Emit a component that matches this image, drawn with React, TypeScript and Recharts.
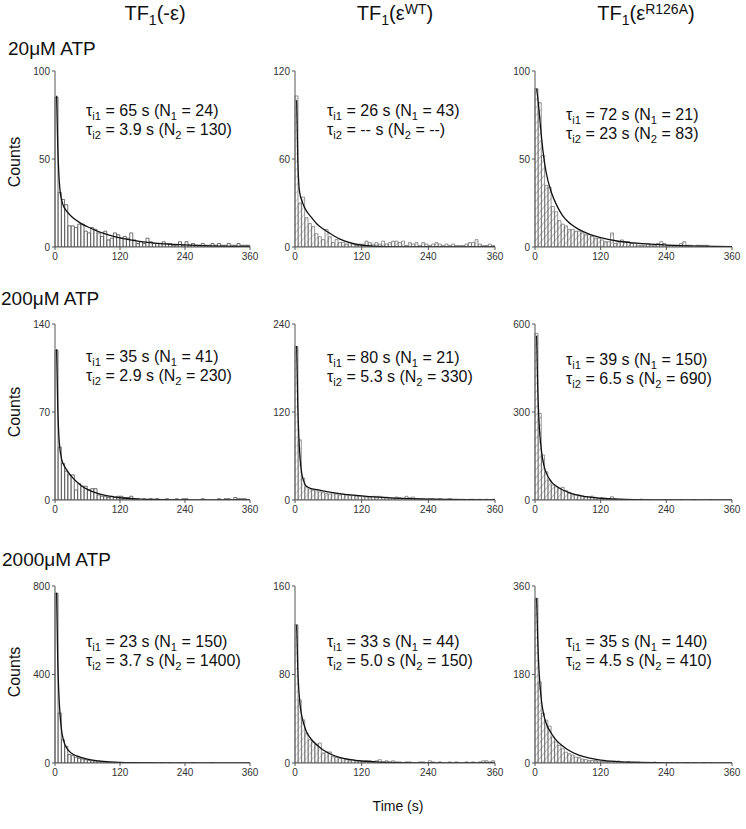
import { Bar, ComposedChart, Line, XAxis, YAxis } from "recharts";

const FONT = "'Liberation Sans', Arial, sans-serif";

// 6 s bins, 0-360 s
const BIN_WIDTH = 6;
const X_TICKS = [0, 120, 240, 360];

const ENZYMES = ["-ε", "WT", "R126A"];
const ATP_LABELS = ["20μM ATP", "200μM ATP", "2000μM ATP"];
const Y_MAX = [100, 120, 100, 140, 240, 600, 800, 160, 360];

const TAU1 = ["65", "26", "72", "35", "80", "39", "23", "33", "35"];
const N1 = ["24", "43", "21", "41", "21", "150", "150", "44", "140"];
const TAU2 = ["3.9", "--", "23", "2.9", "5.3", "6.5", "3.7", "5.0", "4.5"];
const N2 = ["130", "--", "83", "230", "330", "690", "1400", "150", "410"];

// histogram counts per bin
const H_20_NOEPS = [85, 31, 27, 24, 12, 12, 11, 13, 13, 9, 8, 11, 10, 8, 6, 9, 4, 5, 8, 7, 5, 6, 5, 8, 4, 2, 3, 2, 5, 3, 2, 2, 2, 3, 2, 2, 1, 1, 3, 1, 3, 1, 2, 1, 1, 2, 1, 1, 2, 1, 2, 1, 1, 2, 1, 1, 2, 1, 1, 1];
const H_20_WT = [103, 30, 34, 20, 16, 14, 9, 7, 5, 12, 7, 3, 5, 3, 3, 2, 3, 2, 1, 2, 2, 4, 3, 2, 3, 2, 4, 2, 3, 4, 4, 3, 4, 1, 3, 2, 3, 1, 3, 2, 1, 2, 3, 2, 1, 2, 1, 2, 1, 1, 1, 2, 3, 3, 5, 2, 1, 1, 2, 1];
const H_20_R126A = [90, 82, 52, 35, 34, 23, 20, 15, 13, 12, 10, 10, 9, 9, 8, 7, 7, 6, 5, 5, 4, 3, 3, 8, 2, 3, 4, 3, 3, 2, 2, 1, 1, 1, 2, 1, 1, 2, 3, 2, 1, 1, 1, 1, 2, 3, 1, 1, 0, 1, 1, 1, 1, 0, 0, 0, 0, 0, 0, 0];
const H_200_NOEPS = [119, 42, 29, 23, 20, 20, 8, 13, 11, 11, 8, 9, 9, 4, 3, 3, 2, 3, 2, 3, 3, 2, 2, 3, 1, 1, 0, 1, 0, 1, 0, 1, 0, 0, 1, 0, 0, 1, 0, 1, 1, 0, 0, 0, 0, 1, 0, 0, 0, 0, 1, 0, 1, 1, 0, 2, 1, 1, 1, 0];
const H_200_WT = [209, 82, 30, 18, 15, 13, 14, 11, 10, 9, 8, 10, 8, 7, 8, 7, 6, 6, 5, 5, 5, 4, 4, 5, 5, 5, 4, 4, 3, 2, 4, 3, 2, 5, 3, 4, 2, 2, 2, 1, 2, 2, 1, 2, 1, 1, 2, 1, 1, 1, 1, 0, 1, 1, 0, 1, 0, 1, 0, 1];
const H_200_R126A = [568, 295, 153, 96, 68, 51, 45, 40, 43, 32, 23, 20, 17, 17, 14, 11, 11, 13, 9, 6, 7, 6, 5, 11, 5, 3, 3, 2, 2, 2, 2, 1, 3, 1, 1, 1, 0, 1, 0, 1, 0, 1, 0, 0, 1, 0, 0, 0, 1, 0, 0, 0, 0, 1, 0, 0, 0, 0, 0, 0];
const H_2000_NOEPS = [767, 226, 105, 75, 38, 33, 26, 21, 18, 15, 12, 10, 9, 8, 6, 5, 4, 3, 3, 2, 2, 2, 2, 1, 1, 2, 1, 1, 1, 1, 1, 0, 1, 1, 0, 1, 0, 0, 1, 0, 0, 0, 1, 0, 0, 0, 0, 0, 1, 0, 0, 0, 0, 0, 0, 0, 0, 0, 0, 0];
const H_2000_WT = [125, 57, 39, 27, 21, 19, 17, 18, 9, 10, 10, 6, 5, 4, 4, 3, 2, 3, 2, 2, 1, 2, 2, 1, 2, 3, 1, 2, 1, 2, 1, 1, 0, 1, 1, 0, 0, 1, 1, 0, 2, 1, 0, 1, 0, 0, 1, 0, 1, 0, 0, 1, 0, 1, 0, 1, 2, 2, 1, 2];
const H_2000_R126A = [335, 165, 101, 87, 75, 53, 43, 36, 29, 22, 19, 16, 12, 11, 8, 7, 5, 5, 5, 4, 3, 3, 3, 3, 3, 4, 3, 2, 3, 1, 1, 2, 1, 1, 1, 1, 2, 1, 1, 0, 1, 1, 0, 1, 0, 1, 1, 0, 1, 0, 0, 1, 0, 1, 0, 0, 0, 0, 0, 0];

// fitted curves at these times (s)
const FIT_TIMES = [3, 5, 7, 9, 12, 16, 20, 30, 40, 50, 60, 80, 100, 120, 150, 180, 240, 300, 360];
const F_20_NOEPS = [86, 58, 42, 33, 27, 23, 21, 17.5, 15, 13, 11.5, 8.8, 6.8, 5.2, 3.5, 2.4, 1.2, 0.5, 0.3];
const F_20_WT = [100, 60, 42, 36, 32, 28, 25, 20, 15.5, 12.5, 10, 5.5, 2.8, 1.2, 0.4, 0.1, 0, 0, 0];
const F_20_R126A = [90, 85, 79, 72, 62, 51, 43, 31, 23.5, 18, 14.5, 10, 7.2, 5.3, 3.4, 2.3, 1.1, 0.5, 0.2];
const F_200_NOEPS = [120, 75, 52, 41, 33, 28, 25, 19, 14.5, 11, 8.5, 5, 3, 1.8, 0.9, 0.4, 0.1, 0, 0];
const F_200_WT = [210, 130, 85, 58, 37, 25, 19, 15.5, 14, 12.5, 11, 8.8, 7, 5.5, 3.8, 2.6, 1.2, 0.6, 0.3];
const F_200_R126A = [560, 380, 280, 220, 165, 120, 95, 62, 46, 35, 27, 16, 9.5, 6, 3, 1.5, 0.4, 0.1, 0];
const F_2000_NOEPS = [770, 470, 320, 230, 150, 100, 75, 45, 32, 24, 17, 10, 5.5, 3, 1.5, 0.7, 0.2, 0, 0];
const F_2000_WT = [125, 85, 65, 53, 43, 35, 29, 21, 16, 12, 9, 5, 3, 1.8, 0.8, 0.3, 0.1, 0, 0];
const F_2000_R126A = [335, 250, 195, 160, 125, 98, 82, 60, 45, 35, 27, 16, 10, 6, 3, 1.5, 0.4, 0.1, 0];

const HISTS = [H_20_NOEPS, H_20_WT, H_20_R126A, H_200_NOEPS, H_200_WT, H_200_R126A, H_2000_NOEPS, H_2000_WT, H_2000_R126A];
const FITS = [F_20_NOEPS, F_20_WT, F_20_R126A, F_200_NOEPS, F_200_WT, F_200_R126A, F_2000_NOEPS, F_2000_WT, F_2000_R126A];

// layout
const COL_LEFT = [55, 295, 535];
const COL_WIDTH = [195, 200, 197];
const ROW_TOP = [71, 324, 586];
const ROW_HEIGHT = [176, 176, 177];
const ANNOT_LEFT = [86, 327, 566];
const ANNOT_TOP = [102, 102, 106, 348, 349, 351, 633, 633, 633];
const TITLE_CENTER = [155, 395, 646];
const ROW_LABEL = [{ x: 8, y: 49 }, { x: 1, y: 299 }, { x: 2, y: 560 }];
const COUNTS_Y = [162, 412, 672];

const Sub = ({ children }: { children: React.ReactNode }) => (
  <span style={{ fontSize: "0.7em", position: "relative", top: "0.35em" }}>{children}</span>
);
const Sup = ({ children }: { children: React.ReactNode }) => (
  <span style={{ fontSize: "0.7em", position: "relative", top: "-0.42em" }}>{children}</span>
);

function Panel({ k, col, row }: { k: number; col: number; row: number }) {
  const bins = HISTS[k].map((c, i) => ({ bin: i * BIN_WIDTH, count: c }));
  const curve = FIT_TIMES.map((t, i) => ({ t, fit: FITS[k][i] }));
  const yMax = Y_MAX[k];
  const mLeft = 34;
  const mTop = 8;
  const mRight = 12;
  const mBottom = 20;
  const w = COL_WIDTH[col];
  const h = ROW_HEIGHT[row];
  const pid = `hatch-${k}`;
  const fill = col === 0 ? "#fff" : `url(#${pid})`;
  const hatchColor = col === 1 ? "#999" : "#666";
  const tick = { fontSize: 10, fill: "#333", fontFamily: FONT };

  return (
    <div style={{ position: "absolute", left: COL_LEFT[col] - mLeft, top: ROW_TOP[row] - mTop }}>
      <ComposedChart
        width={w + mLeft + mRight}
        height={h + mTop + mBottom}
        data={bins}
        margin={{ top: mTop, right: mRight, left: 0, bottom: 0 }}
        barCategoryGap={0}
        barGap={0}
      >
        <defs>
          <pattern id={pid} width="5" height="5" patternUnits="userSpaceOnUse" patternTransform="rotate(40)">
            <line x1="0" y1="0" x2="0" y2="5" stroke={hatchColor} strokeWidth="0.8" />
          </pattern>
        </defs>
        <XAxis
          xAxisId="t"
          type="number"
          dataKey="t"
          domain={[0, 360]}
          ticks={X_TICKS}
          interval={0}
          height={mBottom}
          tickSize={3}
          tickMargin={3}
          tick={tick}
          stroke="#555"
          allowDataOverflow
        />
        <XAxis xAxisId="bins" dataKey="bin" hide height={0} />
        <YAxis
          domain={[0, yMax]}
          ticks={[0, yMax / 2, yMax]}
          interval={0}
          width={mLeft}
          tickSize={3}
          tickMargin={2}
          tick={tick}
          stroke="#555"
          allowDataOverflow
        />
        <Bar
          xAxisId="bins"
          dataKey="count"
          fill={fill}
          stroke={col === 0 ? "#444" : "#555"}
          strokeWidth={col === 0 ? 0.75 : 0.6}
          isAnimationActive={false}
        />
        <Line
          xAxisId="t"
          data={curve}
          dataKey="fit"
          type="monotone"
          stroke="#111"
          strokeWidth={1.3}
          dot={false}
          isAnimationActive={false}
        />
      </ComposedChart>
    </div>
  );
}

export default function App() {
  const panels = [];
  for (let row = 0; row < 3; row++) {
    for (let col = 0; col < 3; col++) {
      panels.push(<Panel key={`${row}-${col}`} k={row * 3 + col} col={col} row={row} />);
    }
  }

  return (
    <div
      style={{
        position: "absolute",
        left: 0,
        top: 0,
        width: 746,
        height: 829,
        background: "#fff",
        fontFamily: FONT,
        color: "#111",
      }}
    >
      {TITLE_CENTER.map((cx, i) => (
        <div
          key={`title-${i}`}
          style={{ position: "absolute", left: cx - 100, top: 1, width: 200, textAlign: "center", fontSize: 20, lineHeight: "24px" }}
        >
          TF<Sub>1</Sub>(
          {i === 0 ? ENZYMES[0] : (
            <>
              ε<Sup>{ENZYMES[i]}</Sup>
            </>
          )}
          )
        </div>
      ))}

      {ATP_LABELS.map((label, i) => (
        <div
          key={label}
          style={{ position: "absolute", left: ROW_LABEL[i].x, top: ROW_LABEL[i].y - 12, fontSize: 19, lineHeight: "24px", whiteSpace: "nowrap" }}
        >
          {label}
        </div>
      ))}

      {COUNTS_Y.map((cy, i) => (
        <div
          key={`counts-${i}`}
          style={{
            position: "absolute",
            left: 15,
            top: cy,
            fontSize: 16,
            lineHeight: "18px",
            transform: "translate(-50%, -50%) rotate(-90deg)",
            whiteSpace: "nowrap",
          }}
        >
          Counts
        </div>
      ))}

      {panels}

      {TAU1.map((_, k) => (
        <div
          key={`annot-${k}`}
          style={{
            position: "absolute",
            left: ANNOT_LEFT[k % 3],
            top: ANNOT_TOP[k],
            fontSize: 16,
            lineHeight: "18px",
            whiteSpace: "nowrap",
          }}
        >
          <div>
            τ<Sub>i1</Sub> = {TAU1[k]} s (N<Sub>1</Sub> = {N1[k]})
          </div>
          <div>
            τ<Sub>i2</Sub> = {TAU2[k]} s (N<Sub>2</Sub> = {N2[k]})
          </div>
        </div>
      ))}

      <div style={{ position: "absolute", left: 298, top: 797, width: 200, textAlign: "center", fontSize: 14, lineHeight: "18px" }}>
        Time (s)
      </div>
    </div>
  );
}
